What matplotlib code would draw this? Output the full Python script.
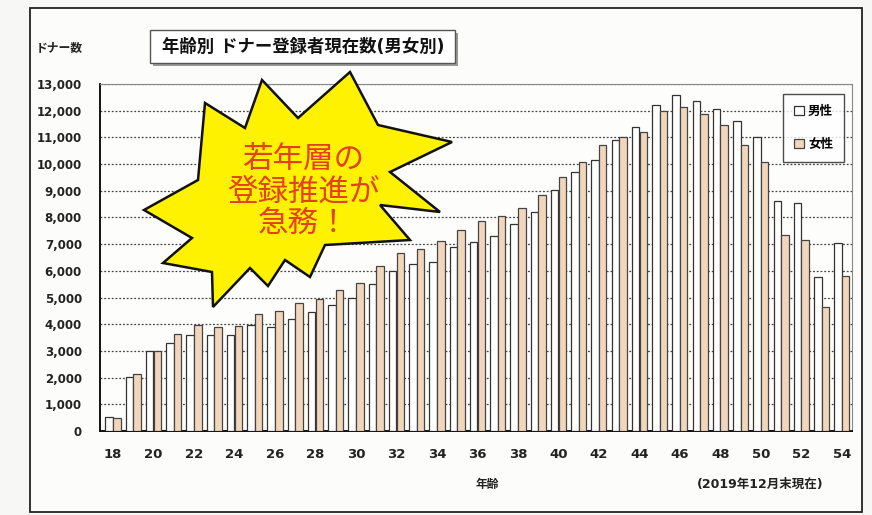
import matplotlib
matplotlib.use("Agg")
import matplotlib.pyplot as plt
from matplotlib.patches import Polygon, Rectangle
import numpy as np

plt.rcParams['font.family'] = ['DejaVu Sans', 'Noto Sans CJK JP']

ages = list(range(18, 55))
male = [530, 2030, 2980, 3310, 3590, 3590, 3590, 3980, 3910, 4210, 4460, 4730, 5000,
        5500, 5980, 6270, 6330, 6900, 7080, 7290, 7750, 8190, 9030, 9710, 10160, 10900,
        11400, 12230, 12600, 12380, 12060, 11630, 11000, 8600, 8530, 5780, 7030]
female = [480, 2150, 3000, 3630, 3980, 3910, 3940, 4400, 4500, 4790, 4960, 5280, 5560,
          6170, 6670, 6800, 7120, 7530, 7850, 8060, 8340, 8850, 9530, 10090, 10710, 11000,
          11190, 11980, 12130, 11880, 11480, 10710, 10060, 7340, 7150, 4630, 5810]
xtick_ages = list(range(18, 55, 2))
yticks = list(range(0, 13001, 1000))
series_names = ['男性', '女性']
title = '年齢別 ドナー登録者現在数(男女別)'
ylabel = 'ドナー数'
xlabel = '年齢'
note = '(2019年12月末現在)'
callout = ['若年層の', '登録推進が', '急務！']

W, H = 872, 515
fig = plt.figure(figsize=(W / 100, H / 100), dpi=100)
fig.patch.set_facecolor('#f7f7f5')

def fx(px):
    return px / W

def fy(py):
    return 1 - py / H

def rect_px(x0, y0, x1, y1, **kw):
    r = Rectangle((fx(x0), fy(y1)), fx(x1) - fx(x0), fy(y0) - fy(y1),
                  transform=fig.transFigure, **kw)
    fig.patches.append(r)
    return r

# outer frame
rect_px(30, 8, 862, 512, fill=True, fc='#fcfcfb', ec='#222', lw=1.3, zorder=-5)

ax = fig.add_axes([fx(100), fy(431), fx(852) - fx(100), fy(84) - fy(431)])
ax.set_zorder(1)
ax.set_facecolor('#fdfdfc')

x = np.array(ages, dtype=float)
bw = 0.37
ax.bar(x - 0.19, male, width=bw, color='white', edgecolor='#333333', linewidth=0.9,
       label=series_names[0], zorder=3)
ax.bar(x + 0.19, female, width=bw, color='#f1d6bc', edgecolor='#444444', linewidth=0.9,
       label=series_names[1], zorder=3)

ax.set_xlim(17.36, 54.5)
ax.set_ylim(0, 13000)
ax.set_yticks(yticks)
ax.set_yticklabels([f'{v:,}' for v in yticks], fontsize=8.5, fontweight='bold', color='#222')
ax.set_xticks(xtick_ages)
ax.set_xticklabels([str(a) for a in xtick_ages], fontsize=9.5, fontweight='bold', color='#222')
ax.tick_params(axis='y', length=0, pad=13)
ax.tick_params(axis='x', length=0, pad=12)
ax.grid(axis='y', linestyle=(0, (1.5, 1.5)), color='#444', linewidth=0.9, zorder=1)
for s in ['top', 'right']:
    ax.spines[s].set_color('#888')
    ax.spines[s].set_linewidth(0.8)
ax.spines['left'].set_color('#111')
ax.spines['left'].set_linewidth(1.4)
ax.spines['bottom'].set_color('#111')
ax.spines['bottom'].set_linewidth(1.4)

leg = ax.legend(loc='upper right', bbox_to_anchor=(0.998, 0.99),
                prop={'weight': 'bold', 'size': 9}, frameon=True, fancybox=False,
                edgecolor='#222', handlelength=0.8, handleheight=0.8, handletextpad=0.3,
                labelspacing=1.6, borderpad=0.9)
leg.get_frame().set_linewidth(1.0)

# title box with shadow
rect_px(153, 33, 458, 66, fc='#9a9a9a', ec='none', zorder=2)
rect_px(150, 30, 455, 63, fc='white', ec='#555', lw=1, zorder=3)
fig.text(fx(303), fy(46.5), title, ha='center', va='center', fontsize=12.5, fontweight='bold',
         color='#111', zorder=4)

fig.text(fx(36), fy(48), ylabel, ha='left', va='center', fontsize=8.5, fontweight='bold', color='#222')
fig.text(fx(487), fy(484), xlabel, ha='center', va='center', fontsize=8.5, fontweight='bold', color='#222')
fig.text(fx(760), fy(484), note, ha='center', va='center', fontsize=9, fontweight='bold', color='#222')

# starburst callout (decoration)
star_px = [(144, 210), (198, 180), (205, 103), (245, 128), (262, 80), (298, 118),
           (350, 72), (378, 125), (452, 142), (390, 172), (440, 212), (380, 205),
           (410, 240), (325, 245), (310, 277), (285, 260), (268, 286), (250, 268),
           (213, 307), (212, 272), (163, 263), (192, 238)]
star = Polygon([(fx(a), fy(b)) for a, b in star_px], closed=True, transform=fig.transFigure,
               fc='#fff200', ec='#111', lw=1.8, zorder=10)
fig.patches.append(star)
for line, py in zip(callout, [160, 192, 223]):
    fig.text(fx(303), fy(py), line, ha='center', va='center', fontsize=22,
             color='#e5401c', family=['Noto Sans CJK JP'], zorder=11)

fig.savefig('out.png', dpi=100, facecolor=fig.get_facecolor())
